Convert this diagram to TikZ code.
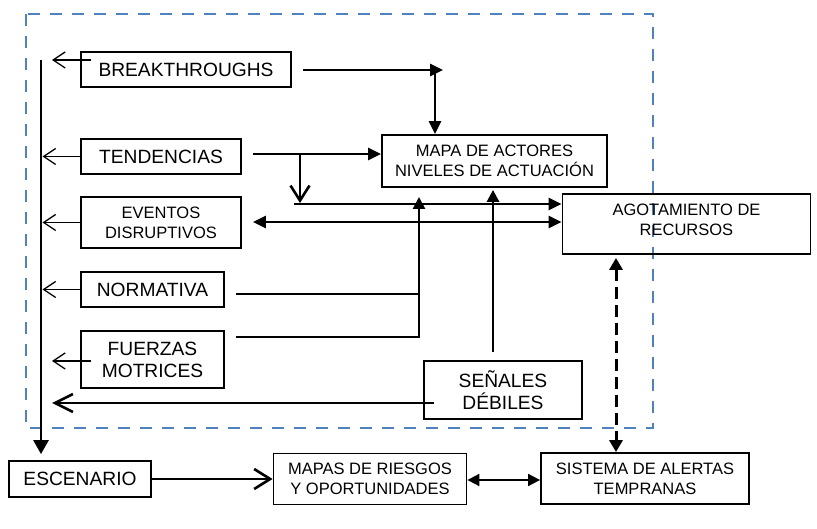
\documentclass[tikz,border=0pt]{standalone}
\usepackage{fontspec}
\setmainfont{Liberation Sans}
\usetikzlibrary{positioning,arrows.meta}

\begin{document}
\begin{tikzpicture}[
  x=1pt, y=-1pt,
  every node/.style={draw=black, line width=1.8pt, align=center, inner sep=0pt},
  big/.style={font=\fontsize{19.2}{22}\selectfont},
  small/.style={font=\fontsize{16.5}{20}\selectfont},
  thinarr/.style={draw=black, line width=1.3pt, -{Straight Barb[length=12pt,width=16pt]}},
  arr/.style={draw=black, line width=2.6pt, -{Triangle[length=13pt,width=12pt]}},
  arrboth/.style={draw=black, line width=2.6pt, {Triangle[length=13pt,width=12pt]}-{Triangle[length=13pt,width=12pt]}},
  plain/.style={draw=black, line width=2.6pt}
]
\useasboundingbox (0,0) rectangle (817,529);
\draw[draw={rgb,255:red,79;green,129;blue,189}, line width=2.6pt, dash pattern=on 12pt off 10pt] (26,14) rectangle (653,428);

\node[big, minimum width=210pt, minimum height=35pt] (brk) at (186,69.5) {BREAKTHROUGHS};
\node[big, minimum width=160pt, minimum height=35pt] (tend) at (161,156.5) {TENDENCIAS};
\node[small, minimum width=160pt, minimum height=51pt] (event) at (161,222.5) {EVENTOS\\DISRUPTIVOS};
\node[big, minimum width=143pt, minimum height=35pt] (norm) at (152.5,289.5) {NORMATIVA};
\node[big, minimum width=143pt, minimum height=57pt] (fuer) at (152.5,359.5) {FUERZAS\\MOTRICES};
\node[big, minimum width=142pt, minimum height=36pt] (esc) at (80,479) {ESCENARIO};
\node[small, minimum width=193pt, minimum height=51pt] (riesgo) at (370,479) {MAPAS DE RIESGOS\\Y OPORTUNIDADES};
\node[small, minimum width=208pt, minimum height=51pt] (alerta) at (645,478.5) {SISTEMA DE ALERTAS\\TEMPRANAS};
\node[big, minimum width=158pt, minimum height=58pt] (senal) at (503,390) {SEÑALES\\DÉBILES};
\node[small, minimum width=225pt, minimum height=52pt] (actor) at (494.5,161) {MAPA DE ACTORES\\NIVELES DE ACTUACIÓN};
\node[small, minimum width=248pt, minimum height=60pt, text depth=8pt] (agot) at (686.5,224) {AGOTAMIENTO DE\\RECURSOS};

\coordinate (spinetop) at (41,60);
\coordinate (brkjoin) at (435,70);
\coordinate (tendsplit) at (300,154);
\coordinate (bus) at (294,204);
\coordinate (forcejoin) at (419,337);

% left spine and feedback arrows
\draw[arr, -{Triangle[length=14pt,width=15pt]}] (spinetop) -- ([yshift=6pt]spinetop |- esc.north);
\draw[thinarr] ([xshift=11pt,yshift=9.5pt]brk.west) -- ([xshift=11pt,yshift=9.5pt]brk.west -| spinetop);
\draw[thinarr] (tend.west) -- ([xshift=1.5pt]tend.west -| spinetop);
\draw[thinarr] (event.west) -- ([xshift=1.5pt]event.west -| spinetop);
\draw[thinarr] (norm.west) -- ([xshift=1.5pt]norm.west -| spinetop);
\draw[thinarr] ([xshift=11pt,yshift=-1.5pt]fuer.west) -- ([xshift=11pt,yshift=-1.5pt]fuer.west -| spinetop);
\draw[plain, -{Straight Barb[length=18pt,width=18pt]}] ([xshift=11pt,yshift=-13pt]senal.west) -- ([xshift=11pt,yshift=-13pt]senal.west -| spinetop);

% right side
\draw[arr] ([xshift=11pt,yshift=-0.5pt]brk.east) -- ([xshift=8pt]brkjoin);
\draw[arr] (brkjoin) -- (brkjoin |- actor.north);
\draw[arr] ([xshift=11pt,yshift=2.5pt]tend.east) -- ([yshift=2.5pt]tend.east -| actor.west);
\draw[plain, -{Straight Barb[length=15pt,width=19pt]}] (tendsplit) -- ([yshift=1pt]tendsplit |- bus);
\draw[arr] (bus) -- (bus -| agot.west);
\draw[arrboth] ([xshift=11pt,yshift=0.5pt]event.east) -- ([yshift=0.5pt]event.east -| agot.west);
\draw[plain] ([xshift=11pt,yshift=-4.5pt]norm.east) -- ([yshift=-4.5pt]norm.east -| forcejoin);
\draw[arr, -{Triangle[length=12pt,width=12pt]}] ([xshift=11pt,yshift=22.5pt]fuer.east) -- (forcejoin) -- ([yshift=7pt]forcejoin |- bus);
\draw[arr, -{Triangle[length=12pt,width=12pt]}] ([xshift=-10pt,yshift=8pt]senal.north) -- ([xshift=-10pt,yshift=-2pt]senal.north |- actor.south);
\draw[arrboth, line width=3pt, {Triangle[length=12pt,width=13pt]}-{Triangle[length=12pt,width=13pt]}, dash pattern=on 12pt off 6pt] ([xshift=-70.5pt,yshift=-3pt]agot.south) -- ([xshift=-70.5pt]agot.south |- alerta.north);

% bottom row
\draw[plain, -{Straight Barb[length=16pt,width=20pt]}] (esc.east) -- (riesgo.west);
\draw[arrboth, line width=1.8pt, {Triangle[length=12pt,width=12pt]}-{Triangle[length=12pt,width=12pt]}] ([yshift=-1pt]riesgo.east) -- ([yshift=-1pt]riesgo.east -| alerta.west);
\end{tikzpicture}
\end{document}
